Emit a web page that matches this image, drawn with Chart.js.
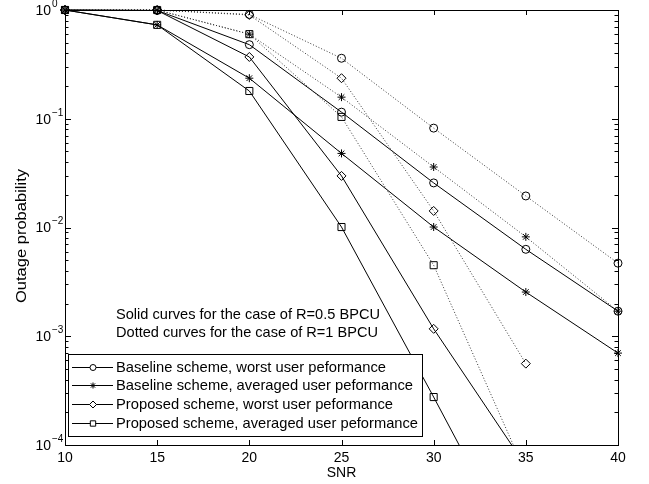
<!DOCTYPE html>
<html>
<head>
<meta charset="utf-8">
<script src="https://cdn.jsdelivr.net/npm/chart.js@4.4.0/dist/chart.umd.min.js"></script>
<style>
  html, body { margin: 0; padding: 0; background: #fff; }
  #wrap { width: 649px; height: 484px; }
</style>
</head>
<body>
<div id="wrap"><canvas id="myChart" width="649" height="484"></canvas></div>
<script>
// SNR values on the x axis
const snr = [10, 15, 20, 25, 30, 35, 40];

// solid curves, R=0.5 BPCU
const baseWorstHalf = [1, 0.99, 0.48, 0.115, 0.0257, 0.0063, 0.0017];
const baseAvgHalf   = [1, 0.73, 0.236, 0.048, 0.0101, 0.00255, 0.0007];
const propWorstHalf = [1, 0.99, 0.37, 0.0298, 0.00117, 0.000064, null];
const propAvgHalf   = [1, 0.73, 0.18, 0.0101, 0.000276, 0.000007, null];

// dotted curves, R=1 BPCU
const baseWorstOne = [1, 1, 0.91, 0.36, 0.082, 0.0195, 0.0047];
const baseAvgOne   = [1, 1, 0.6, 0.158, 0.036, 0.0082, 0.0017];
const propWorstOne = [1, 1, 0.9, 0.236, 0.0142, 0.00056, null];
const propAvgOne   = [1, 1, 0.6, 0.104, 0.0045, 0.000055, null];

// tick labels
const xTicks = [10, 15, 20, 25, 30, 35, 40];
const yExponents = [0, -1, -2, -3, -4];

const seriesNames = [
  'Baseline scheme, worst user peformance',
  'Baseline scheme, averaged user peformance',
  'Proposed scheme, worst user peformance',
  'Proposed scheme, averaged user peformance'
];
const noteLines = [
  'Solid curves for the case of R=0.5 BPCU',
  'Dotted curves for the case of R=1 BPCU'
];

const FONT = '"Liberation Sans", Arial, Helvetica, sans-serif';

// o, *, diamond, square like the matlab markers
const markerStyles = ['circle', 'star', 'rectRot', 'rect'];
const markerSizes = [4, 4, 4.5, 5];
const legendSizes = [3, 3, 3.5, 3.8];

// turn x/y arrays into points
function toPoints(values) {
  return snr.map((x, i) => ({ x: x, y: values[i] }));
}

function makeSet(label, values, idx, dotted) {
  return {
    label: label,
    data: toPoints(values),
    borderColor: dotted ? '#333' : '#000',
    borderWidth: 1,
    borderDash: dotted ? [1, 2] : [],
    pointStyle: markerStyles[idx],
    pointRadius: markerSizes[idx],
    pointBorderColor: '#000',
    pointBackgroundColor: 'rgba(0,0,0,0)',
    pointBorderWidth: 1,
    tension: 0,
    spanGaps: false,
    clip: { left: 8, top: 8, right: 8, bottom: 0 }
  };
}

const solidSets = [baseWorstHalf, baseAvgHalf, propWorstHalf, propAvgHalf];
const dottedSets = [baseWorstOne, baseAvgOne, propWorstOne, propAvgOne];

let datasets = [];
dottedSets.forEach((v, i) => datasets.push(makeSet(seriesNames[i] + ' (R=1)', v, i, true)));
solidSets.forEach((v, i) => datasets.push(makeSet(seriesNames[i], v, i, false)));

// write text stretched to a given width (matches the original font widths)
function fitText(ctx, text, x, y, width) {
  const w = ctx.measureText(text).width;
  ctx.save();
  ctx.translate(x, y);
  ctx.scale(width / w, 1);
  ctx.fillText(text, 0, 0);
  ctx.restore();
}

// draws the box, inward ticks, tick labels, titles, note and legend
const matlabAxes = {
  id: 'matlabAxes',
  afterDatasetsDraw(chart) {
    const ctx = chart.ctx;
    const area = chart.chartArea;
    const xs = chart.scales.x;
    const ys = chart.scales.y;
    ctx.save();
    ctx.strokeStyle = '#000';
    ctx.fillStyle = '#000';
    ctx.lineWidth = 1;

    // x ticks (bottom and top)
    ctx.beginPath();
    xTicks.forEach(t => {
      const px = Math.round(xs.getPixelForValue(t)) + 0.5;
      ctx.moveTo(px, area.bottom); ctx.lineTo(px, area.bottom - 5);
      ctx.moveTo(px, area.top); ctx.lineTo(px, area.top + 5);
    });
    // y ticks, major and minor
    yExponents.forEach(e => {
      const py = Math.round(ys.getPixelForValue(Math.pow(10, e))) + 0.5;
      ctx.moveTo(area.left, py); ctx.lineTo(area.left + 6, py);
      ctx.moveTo(area.right, py); ctx.lineTo(area.right - 6, py);
      if (e < 0) {
        for (let m = 2; m <= 9; m++) {
          const my = Math.round(ys.getPixelForValue(m * Math.pow(10, e))) + 0.5;
          ctx.moveTo(area.left, my); ctx.lineTo(area.left + 3.5, my);
          ctx.moveTo(area.right, my); ctx.lineTo(area.right - 3.5, my);
        }
      }
    });
    ctx.stroke();

    // axes box
    ctx.strokeRect(Math.round(area.left) + 0.5, Math.round(area.top) + 0.5,
      Math.round(area.right - area.left), Math.round(area.bottom - area.top));

    // x tick labels
    ctx.font = '14px ' + FONT;
    ctx.textAlign = 'center';
    ctx.textBaseline = 'middle';
    xTicks.forEach(t => ctx.fillText(String(t), xs.getPixelForValue(t), 458));

    // y tick labels with superscript exponent
    yExponents.forEach(e => {
      const py = ys.getPixelForValue(Math.pow(10, e));
      ctx.font = '14px ' + FONT;
      ctx.textAlign = 'right';
      ctx.fillText('10', 51, py + 1);
      ctx.font = '10px ' + FONT;
      ctx.textAlign = 'left';
      ctx.fillText(e === 0 ? '0' : '\u2212' + (-e), 52, py - 6);
    });

    // axis titles
    ctx.font = '14px ' + FONT;
    ctx.textAlign = 'center';
    ctx.fillText('SNR', (area.left + area.right) / 2, 473);
    ctx.save();
    ctx.translate(22, 236);
    ctx.rotate(-Math.PI / 2);
    ctx.font = '15px ' + FONT;
    ctx.textAlign = 'left';
    fitText(ctx, 'Outage probability', -67, 0, 134);
    ctx.restore();

    // note text
    ctx.font = '15px ' + FONT;
    ctx.textAlign = 'left';
    fitText(ctx, noteLines[0], 116, 315, 264);
    fitText(ctx, noteLines[1], 116, 333, 262);

    // legend box
    const lx = 68.5, ly = 354.5, lw = 354, lh = 82;
    ctx.fillStyle = '#fff';
    ctx.fillRect(lx, ly, lw, lh);
    ctx.strokeRect(lx, ly, lw, lh);
    ctx.fillStyle = '#000';
    const rowsY = [367, 385, 404, 423];
    const rowsW = [270, 297, 277, 302];
    seriesNames.forEach((name, i) => {
      const ry = rowsY[i];
      ctx.beginPath();
      ctx.moveTo(72, ry + 0.5); ctx.lineTo(113, ry + 0.5);
      ctx.stroke();
      if (Chart.helpers && Chart.helpers.drawPoint) {
        ctx.save();
        ctx.fillStyle = '#fff';
        Chart.helpers.drawPoint(ctx, {
          pointStyle: markerStyles[i], radius: legendSizes[i],
          rotation: 0, borderWidth: 1
        }, 93, ry + 0.5);
        ctx.restore();
      }
      ctx.font = '15px ' + FONT;
      ctx.textAlign = 'left';
      fitText(ctx, name, 116, ry + 1, rowsW[i]);
    });
    ctx.restore();
  }
};

const myChart = new Chart(document.getElementById('myChart'), {
  type: 'line',
  data: { datasets: datasets },
  options: {
    responsive: false,
    animation: false,
    events: [],
    layout: { padding: { left: 65, top: 10, right: 31, bottom: 39 } },
    plugins: { legend: { display: false }, tooltip: { enabled: false } },
    scales: {
      x: { type: 'linear', min: 10, max: 40, display: false },
      y: { type: 'logarithmic', min: 0.0001, max: 1, display: false }
    }
  },
  plugins: [matlabAxes]
});
</script>
</body>
</html>
